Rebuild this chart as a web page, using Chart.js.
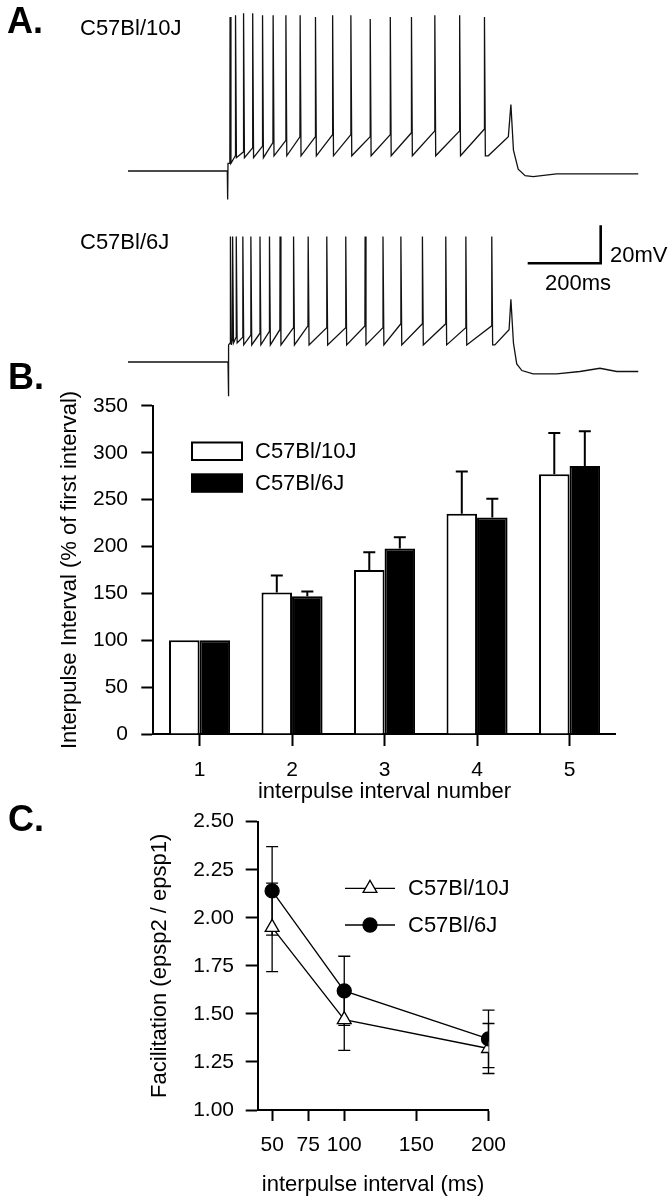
<!DOCTYPE html>
<html lang="en">
<head>
<meta charset="UTF-8">
<title>Repetitive firing and paired-pulse facilitation</title>
<script src="https://cdn.jsdelivr.net/npm/chart.js"></script>
<style>
  body { margin: 0; background: #fff; font-family: "Liberation Sans", Arial, Helvetica, sans-serif; }
  #figure { position: relative; width: 670px; height: 1200px; overflow: hidden; }
  #figure canvas { position: absolute; left: 0; }
  .lbl { position: absolute; line-height: 1; white-space: nowrap; color: #000; }
  .panel { font-weight: bold; font-size: 36px; }
  .name { font-size: 22px; }
</style>
</head>
<body>
<div id="figure">
  <canvas id="traceTop" width="670" height="210" style="top:0px"></canvas>
  <canvas id="traceLow" width="670" height="210" style="top:200px"></canvas>
  <canvas id="barChart" width="670" height="430" style="top:380px"></canvas>
  <canvas id="facChart" width="670" height="410" style="top:790px"></canvas>

  <div class="lbl panel" style="left:7px;top:3px">A.</div>
  <div class="lbl name" style="left:80px;top:17px">C57Bl/10J</div>
  <div class="lbl name" style="left:80px;top:231px">C57Bl/6J</div>
  <div class="lbl name" style="left:610px;top:244px">20mV</div>
  <div class="lbl name" style="left:545px;top:272px">200ms</div>
  <div class="lbl panel" style="left:8px;top:359px">B.</div>
  <div class="lbl panel" style="left:8px;top:801px">C.</div>
</div>

<script>
// ---- panel A: current-clamp traces (time in ms, voltage in mV) ----
const topHeadT = [0, 272, 273, 274];
const topHeadV = [-70, -70, -85, -66];
const topSpikeT = [279, 294, 316, 341, 368, 397, 432, 471, 513, 560, 610, 663, 718, 776, 840, 908, 976];
const topSpikePeak = [11, 12, 13, 13, 12, 12, 12, 12, 11, 12, 12, 10, 11, 11, 12, 12, 11];
const topSpikeBase = [-66, -62, -60, -58, -57, -55, -54, -52, -52, -51, -51, -52, -51, -50, -49, -49, -48];
const topTrough = [-66, -63, -63, -63, -63, -62, -62, -62, -62, -62, -62, -62, -62, -62, -62, -62, -62];
const topTailT = [987, 1042, 1049, 1056, 1069, 1088, 1110, 1174, 1398];
const topTailV = [-62, -52, -35, -59, -69, -72.5, -73, -71.5, -71.5];

const lowHeadT = [0, 274, 275, 276];
const lowHeadV = [-70, -70, -88, -61];
const lowSpikeT = [280, 286, 296, 314, 336, 361, 387, 416, 453, 493, 544, 596, 649, 698, 747, 806, 870, 925, 996];
const lowSpikePeak = [-4, -4, -4, -4, -4, -4, -4, -4, -4, -4, -4, -4, -4, -4, -4, -4, -4, -4, -4];
const lowSpikeBase = [-60, -58, -57, -57, -56, -55, -54, -53, -52, -51, -52, -52, -51, -52, -50, -50, -50, -52, -51];
const lowTrough = [-61, -60, -60, -61, -61, -61, -61, -61, -61, -61, -61, -61, -61, -61, -61, -61, -61, -61, -61];
const lowTailT = [1005, 1044, 1049, 1056, 1065, 1079, 1110, 1174, 1238, 1293, 1339, 1398];
const lowTailV = [-61, -53, -37, -60, -71, -74.5, -76.3, -76.3, -75, -73.3, -75, -75];

// scale bar: 200 ms x 20 mV
const scaleBarT = [1095, 1295, 1295];
const scaleBarV = [-18, -18, 2];

// ---- panel B: interpulse interval, % of first interval ----
const intervalNumbers = ['1', '2', '3', '4', '5'];
const b10Mean = [100, 151, 175, 235, 277];
const b10Err = [0, 18, 19, 45, 44];
const b6Mean = [100, 147, 198, 231, 286];
const b6Err = [0, 5, 12, 20, 37];

// ---- panel C: paired-pulse facilitation ----
const pulseIntervals = [50, 100, 200];
const fac10 = [1.95, 1.47, 1.32];
const fac10Err = [0.23, 0.16, 0.13];
const fac6 = [2.14, 1.62, 1.37];
const fac6Err = [0.23, 0.18, 0.15];
const facXTicks = [50, 75, 100, 150, 200];

const FONT = '"Liberation Sans", Arial, Helvetica, sans-serif';
Chart.defaults.font.family = FONT;
Chart.defaults.color = '#000';
Chart.defaults.animation = false;

function buildTrace(headT, headV, spikeT, peak, base, trough, tailT, tailV) {
    const pts = headT.map((t, i) => ({x: t, y: headV[i]}));
    spikeT.forEach((t, i) => {
        pts.push({x: t, y: base[i]});
        pts.push({x: t + 0.6, y: peak[i]});
        pts.push({x: t + 3, y: trough[i]});
    });
    tailT.forEach((t, i) => pts.push({x: t, y: tailV[i]}));
    return pts;
}

function traceChart(id, points, yMin, yMax, extra) {
    const datasets = [{
        data: points, borderColor: '#111', borderWidth: 1.3,
        pointRadius: 0, tension: 0, fill: false
    }];
    if (extra) datasets.push(extra);
    return new Chart(document.getElementById(id), {
        type: 'line',
        data: {datasets: datasets},
        options: {
            responsive: false, devicePixelRatio: 1,
            layout: {padding: 0},
            plugins: {legend: {display: false}, tooltip: {enabled: false}},
            scales: {
                x: {type: 'linear', display: false, min: -350.7, max: 1484.9},
                y: {type: 'linear', display: false, min: yMin, max: yMax}
            }
        }
    });
}

traceChart('traceTop',
    buildTrace(topHeadT, topHeadV, topSpikeT, topSpikePeak, topSpikeBase, topTrough, topTailT, topTailV),
    -90.53, 20.0);

traceChart('traceLow',
    buildTrace(lowHeadT, lowHeadV, lowSpikeT, lowSpikePeak, lowSpikeBase, lowTrough, lowTailT, lowTailV),
    -95.26, 15.26,
    {
        data: scaleBarT.map((t, i) => ({x: t, y: scaleBarV[i]})),
        borderColor: '#000', borderWidth: 2.6, pointRadius: 0, tension: 0, fill: false
    });

// shared axis look: black lines, ticks pointing outwards
function axisStyle(tickLen) {
    return {
        grid: {display: true, drawOnChartArea: false, drawTicks: true, tickLength: tickLen,
               tickColor: '#000', tickWidth: 2, color: '#000', offset: false},
        border: {display: true, color: '#000', width: 2}
    };
}

// one-sided error bars on top of each bar
const barErrors = {
    id: 'barErrors',
    afterDatasetsDraw(chart) {
        const ctx = chart.ctx, y = chart.scales.y;
        ctx.save();
        ctx.strokeStyle = '#000';
        ctx.lineWidth = 2;
        chart.data.datasets.forEach((ds, di) => {
            chart.getDatasetMeta(di).data.forEach((bar, i) => {
                const e = ds.errors[i];
                if (!e) return;
                const top = y.getPixelForValue(ds.data[i] + e);
                ctx.beginPath();
                ctx.moveTo(bar.x, bar.y);
                ctx.lineTo(bar.x, top);
                ctx.moveTo(bar.x - 6, top);
                ctx.lineTo(bar.x + 6, top);
                ctx.stroke();
            });
        });
        ctx.restore();
    }
};

const boxLegend = {
    id: 'boxLegend',
    afterDraw(chart, args, opts) {
        const ctx = chart.ctx;
        ctx.save();
        ctx.font = '22px ' + FONT;
        ctx.textBaseline = 'middle';
        chart.data.datasets.forEach((ds, i) => {
            const top = opts.rows[i];
            ctx.fillStyle = ds.backgroundColor;
            ctx.fillRect(opts.x, top, opts.w, opts.h);
            ctx.strokeStyle = '#000';
            ctx.lineWidth = 2;
            ctx.strokeRect(opts.x, top, opts.w, opts.h);
            ctx.fillStyle = '#000';
            ctx.fillText(ds.label, opts.textX, top + opts.h / 2 + 1);
        });
        ctx.restore();
    }
};

const bAxes = axisStyle(12);
new Chart(document.getElementById('barChart'), {
    type: 'bar',
    data: {
        labels: intervalNumbers,
        datasets: [
            {label: 'C57Bl/10J', data: b10Mean, errors: b10Err, backgroundColor: '#fff',
             borderColor: '#000', borderWidth: 2, barPercentage: 1, categoryPercentage: 0.66},
            {label: 'C57Bl/6J', data: b6Mean, errors: b6Err, backgroundColor: '#000',
             borderColor: '#000', borderWidth: 2, barPercentage: 1, categoryPercentage: 0.66}
        ]
    },
    options: {
        responsive: false, devicePixelRatio: 1,
        layout: {padding: {left: 0, right: 54.2, top: 23.3, bottom: 0}},
        plugins: {
            legend: {display: false}, tooltip: {enabled: false},
            boxLegend: {x: 192, w: 50, h: 17.5, rows: [62.5, 94.3], textX: 255}
        },
        scales: {
            x: {
                grid: bAxes.grid, border: bAxes.border,
                ticks: {font: {size: 21}, padding: 11.4, color: '#000'},
                title: {display: true, text: 'interpulse interval number', font: {size: 22},
                        color: '#000', padding: {top: 0, bottom: 5.1}},
                afterFit(s) { s.height = 76; }
            },
            y: {
                min: 0, max: 350,
                grid: bAxes.grid, border: bAxes.border,
                ticks: {stepSize: 50, font: {size: 21}, padding: 13.3, color: '#000'},
                title: {display: true, text: 'Interpulse Interval (% of first interval)', font: {size: 22},
                        color: '#000', padding: {top: 56.8, bottom: 0}},
                afterFit(s) { s.width = 153.3; }
            }
        }
    },
    plugins: [barErrors, boxLegend]
});

// symmetric error bars drawn under the markers
const pointErrors = {
    id: 'pointErrors',
    beforeDatasetsDraw(chart) {
        const ctx = chart.ctx, y = chart.scales.y;
        ctx.save();
        ctx.strokeStyle = '#000';
        ctx.lineWidth = 1.3;
        chart.data.datasets.forEach((ds, di) => {
            chart.getDatasetMeta(di).data.forEach((pt, i) => {
                const v = ds.data[i].y, e = ds.errors[i];
                const hi = y.getPixelForValue(v + e), lo = y.getPixelForValue(v - e);
                ctx.beginPath();
                ctx.moveTo(pt.x, hi); ctx.lineTo(pt.x, lo);
                ctx.moveTo(pt.x - 6, hi); ctx.lineTo(pt.x + 6, hi);
                ctx.moveTo(pt.x - 6, lo); ctx.lineTo(pt.x + 6, lo);
                ctx.stroke();
            });
        });
        ctx.restore();
    }
};

function drawMarker(ctx, style, x, y, r, fill) {
    ctx.beginPath();
    if (style === 'triangle') {
        ctx.moveTo(x, y - r);
        ctx.lineTo(x + r * 0.866, y + r * 0.5);
        ctx.lineTo(x - r * 0.866, y + r * 0.5);
        ctx.closePath();
    } else {
        ctx.arc(x, y, r, 0, Math.PI * 2);
    }
    ctx.fillStyle = fill;
    ctx.fill();
    ctx.stroke();
}

const lineLegend = {
    id: 'lineLegend',
    afterDraw(chart, args, opts) {
        const ctx = chart.ctx;
        ctx.save();
        ctx.font = '22px ' + FONT;
        ctx.textBaseline = 'middle';
        ctx.strokeStyle = '#000';
        ctx.lineWidth = 1.3;
        opts.order.forEach((di, row) => {
            const ds = chart.data.datasets[di];
            const y = opts.rows[row];
            ctx.beginPath();
            ctx.moveTo(opts.x1, y); ctx.lineTo(opts.x2, y);
            ctx.stroke();
            drawMarker(ctx, ds.pointStyle, (opts.x1 + opts.x2) / 2, y, ds.pointRadius, ds.pointBackgroundColor);
            ctx.fillStyle = '#000';
            ctx.fillText(ds.label, opts.textX, y + 1);
        });
        ctx.restore();
    }
};

const cAxes = axisStyle(12);
const cXGrid = Object.assign({}, cAxes.grid, {tickLength: 11});
new Chart(document.getElementById('facChart'), {
    type: 'scatter',
    data: {
        datasets: [
            {label: 'C57Bl/6J', data: pulseIntervals.map((x, i) => ({x: x, y: fac6[i]})), errors: fac6Err,
             showLine: true, borderColor: '#000', borderWidth: 1.3, tension: 0,
             pointStyle: 'circle', pointRadius: 7, pointBackgroundColor: '#000',
             pointBorderColor: '#000', pointBorderWidth: 1.3},
            {label: 'C57Bl/10J', data: pulseIntervals.map((x, i) => ({x: x, y: fac10[i]})), errors: fac10Err,
             showLine: true, borderColor: '#000', borderWidth: 1.3, tension: 0,
             pointStyle: 'triangle', pointRadius: 8, pointBackgroundColor: '#fff',
             pointBorderColor: '#000', pointBorderWidth: 1.3}
        ]
    },
    options: {
        responsive: false, devicePixelRatio: 1,
        layout: {padding: {left: 0, right: 181.5, top: 31.7, bottom: 0}},
        plugins: {
            legend: {display: false}, tooltip: {enabled: false},
            lineLegend: {x1: 345, x2: 395, textX: 408, rows: [98.3, 135], order: [1, 0]}
        },
        scales: {
            x: {
                type: 'linear', min: 40, max: 200,
                grid: cXGrid, border: cAxes.border,
                ticks: {font: {size: 21}, padding: 11.4, autoSkip: false, color: '#000'},
                afterBuildTicks(s) { s.ticks = facXTicks.map(v => ({value: v})); },
                title: {display: true, text: 'interpulse interval (ms)', font: {size: 22},
                        color: '#000', padding: {top: 0, bottom: 1.8}},
                afterFit(s) { s.height = 90; }
            },
            y: {
                type: 'linear', min: 1, max: 2.5,
                grid: cAxes.grid, border: cAxes.border,
                ticks: {stepSize: 0.25, font: {size: 21}, padding: 11.7, color: '#000',
                        callback: v => v.toFixed(2)},
                title: {display: true, text: 'Facilitation (epsp2 / epsp1)', font: {size: 22},
                        color: '#000', padding: {top: 146.8, bottom: 0}},
                afterFit(s) { s.width = 257.7; }
            }
        }
    },
    plugins: [pointErrors, lineLegend]
});
</script>
</body>
</html>
